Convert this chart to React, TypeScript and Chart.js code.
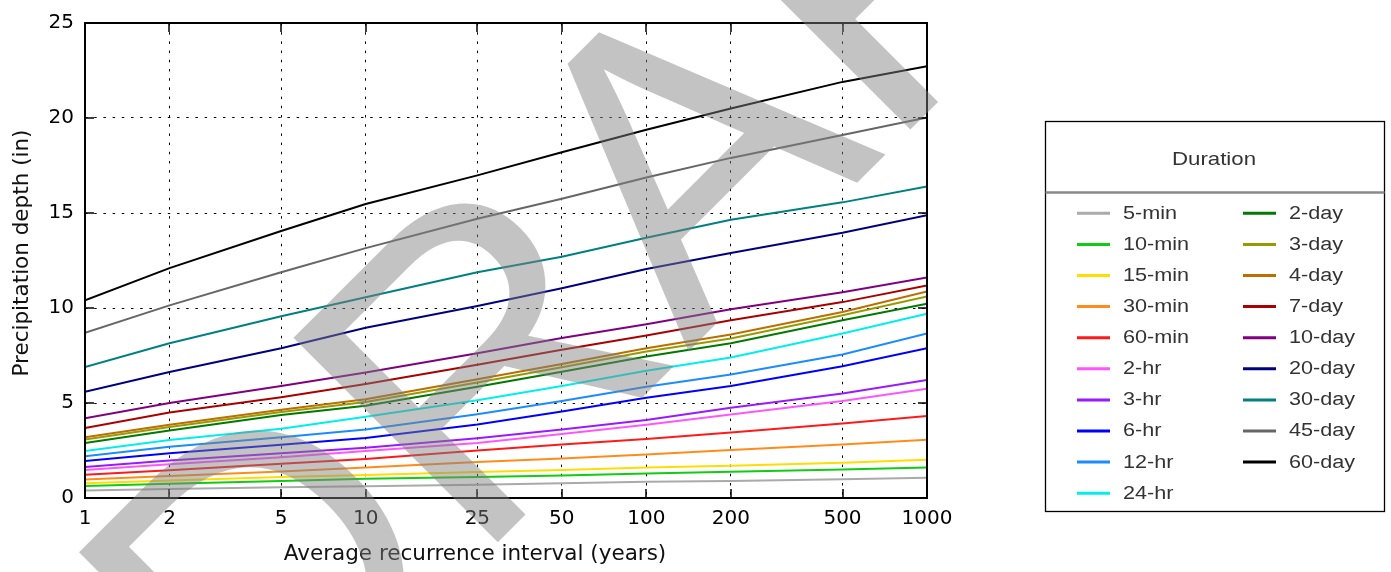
import React, { useEffect, useRef } from "react";
import { Chart, registerables } from "chart.js";

Chart.register(...registerables);

// ---- data -----------------------------------------------------------------
const ARI_YEARS = [1, 2, 5, 10, 25, 50, 100, 200, 500, 1000];
const X_TICKS = [1, 2, 5, 10, 25, 50, 100, 200, 500, 1000];
const Y_TICKS = [0, 5, 10, 15, 20, 25];

const DURATIONS = [
  "5-min", "10-min", "15-min", "30-min", "60-min", "2-hr", "3-hr", "6-hr", "12-hr", "24-hr",
  "2-day", "3-day", "4-day", "7-day", "10-day", "20-day", "30-day", "45-day", "60-day",
];

const COLORS = [
  "#aaaaaa", "#11cc11", "#ffdd00", "#ff8c1a", "#ff1a1a", "#ff55ff", "#9a1aff", "#0000ff", "#1a8cff", "#00eeee",
  "#007a00", "#999900", "#bb6f00", "#aa0000", "#800080", "#000080", "#008080", "#666666", "#000000",
];

const D_5MIN = [0.40, 0.48, 0.56, 0.62, 0.70, 0.77, 0.85, 0.90, 0.99, 1.07];
const D_10MIN = [0.63, 0.75, 0.90, 1.01, 1.10, 1.19, 1.29, 1.38, 1.50, 1.60];
const D_15MIN = [0.77, 0.92, 1.10, 1.21, 1.37, 1.48, 1.60, 1.70, 1.86, 2.01];
const D_30MIN = [0.98, 1.16, 1.40, 1.60, 1.89, 2.08, 2.29, 2.52, 2.82, 3.06];
const D_60MIN = [1.23, 1.46, 1.80, 2.05, 2.50, 2.81, 3.11, 3.45, 3.92, 4.32];
const D_2HR = [1.48, 1.78, 2.15, 2.47, 2.90, 3.37, 3.85, 4.40, 5.10, 5.75];
const D_3HR = [1.63, 1.98, 2.35, 2.64, 3.15, 3.60, 4.10, 4.75, 5.50, 6.21];
const D_6HR = [1.95, 2.36, 2.80, 3.16, 3.87, 4.55, 5.28, 5.89, 6.93, 7.88];
const D_12HR = [2.20, 2.70, 3.20, 3.61, 4.41, 5.10, 5.85, 6.50, 7.55, 8.66];
const D_24HR = [2.47, 3.05, 3.65, 4.28, 5.14, 5.89, 6.70, 7.40, 8.66, 9.70];
const D_2DAY = [2.90, 3.55, 4.37, 4.85, 5.85, 6.65, 7.45, 8.15, 9.35, 10.22];
const D_3DAY = [3.08, 3.74, 4.53, 5.05, 6.08, 6.88, 7.71, 8.40, 9.62, 10.60];
const D_4DAY = [3.20, 3.86, 4.65, 5.20, 6.25, 7.05, 7.88, 8.61, 9.79, 10.87];
const D_7DAY = [3.68, 4.50, 5.30, 6.00, 7.01, 7.80, 8.55, 9.36, 10.31, 11.18];
const D_10DAY = [4.20, 5.00, 5.89, 6.60, 7.62, 8.42, 9.15, 9.93, 10.83, 11.60];
const D_20DAY = [5.59, 6.63, 7.88, 8.96, 10.10, 11.04, 12.05, 12.90, 13.96, 14.88];
const D_30DAY = [6.89, 8.14, 9.57, 10.57, 11.88, 12.70, 13.70, 14.65, 15.56, 16.39];
const D_45DAY = [8.70, 10.14, 11.88, 13.15, 14.70, 15.75, 16.87, 17.90, 19.10, 20.03];
const D_60DAY = [10.40, 12.10, 14.05, 15.47, 16.98, 18.20, 19.38, 20.50, 21.90, 22.73];

const SERIES = [
  D_5MIN, D_10MIN, D_15MIN, D_30MIN, D_60MIN, D_2HR, D_3HR, D_6HR, D_12HR, D_24HR,
  D_2DAY, D_3DAY, D_4DAY, D_7DAY, D_10DAY, D_20DAY, D_30DAY, D_45DAY, D_60DAY,
];

const X_TITLE = "Average recurrence interval (years)";
const Y_TITLE = "Precipitation depth (in)";
const LEGEND_TITLE = "Duration";
const WATERMARK = "DRAFT";

// ---- styling --------------------------------------------------------------
const W = 1391;
const H = 572;
const AXIS_FONT = "'DejaVu Sans', 'Liberation Sans', sans-serif";
const LEGEND_FONT = "'Liberation Sans', Arial, sans-serif";

const decorPlugin = {
  id: "decor",
  afterDatasetsDraw(chart: any) {
    const { ctx, chartArea: a, scales } = chart;
    ctx.save();
    ctx.strokeStyle = "#000";
    ctx.lineWidth = 1.5;
    const L = 9;
    ctx.beginPath();
    for (const v of X_TICKS) {
      const x = Math.round(scales.x.getPixelForValue(v));
      ctx.moveTo(x, a.bottom);
      ctx.lineTo(x, a.bottom - L);
      ctx.moveTo(x, a.top);
      ctx.lineTo(x, a.top + L);
    }
    for (const v of Y_TICKS) {
      const y = Math.round(scales.y.getPixelForValue(v));
      ctx.moveTo(a.left, y);
      ctx.lineTo(a.left + L, y);
      ctx.moveTo(a.right, y);
      ctx.lineTo(a.right - L, y);
    }
    ctx.stroke();
    ctx.lineWidth = 2;
    ctx.strokeRect(a.left, a.top, a.right - a.left, a.bottom - a.top);
    ctx.restore();
  },
  afterDraw(chart: any) {
    const { ctx } = chart;
    // axis titles
    ctx.save();
    ctx.fillStyle = "#111";
    ctx.font = `21.5px ${AXIS_FONT}`;
    ctx.textAlign = "center";
    ctx.textBaseline = "middle";
    ctx.fillText(X_TITLE, 475, 554);
    ctx.translate(22, 253);
    ctx.rotate(-Math.PI / 2);
    ctx.fillText(Y_TITLE, 0, 0);
    ctx.restore();

    // legend
    const bx = 1045.5, by = 121.5, bw = 339, bh = 390;
    ctx.save();
    ctx.fillStyle = "#fff";
    ctx.fillRect(bx, by, bw, bh);
    ctx.strokeStyle = "#000";
    ctx.lineWidth = 1.3;
    ctx.strokeRect(bx, by, bw, bh);
    ctx.strokeStyle = "#8a8a8a";
    ctx.lineWidth = 2.5;
    ctx.beginPath();
    ctx.moveTo(bx, 192.5);
    ctx.lineTo(bx + bw, 192.5);
    ctx.stroke();

    ctx.fillStyle = "#333";
    ctx.textBaseline = "middle";
    ctx.save();
    ctx.translate(1214, 160);
    ctx.scale(1.17, 1);
    ctx.font = `19px ${LEGEND_FONT}`;
    ctx.textAlign = "center";
    ctx.fillText(LEGEND_TITLE, 0, 0);
    ctx.restore();

    const ds = chart.data.datasets;
    const rowY0 = 213.3, rowStep = 31.1;
    ds.forEach((d: any, i: number) => {
      const col = i < 10 ? 0 : 1;
      const row = i < 10 ? i : i - 10;
      const y = rowY0 + row * rowStep;
      const lx = col === 0 ? 1077 : 1243;
      const tx = col === 0 ? 1123 : 1289;
      ctx.strokeStyle = d.borderColor;
      ctx.lineWidth = 3;
      ctx.beginPath();
      ctx.moveTo(lx, y);
      ctx.lineTo(lx + 33, y);
      ctx.stroke();
      ctx.save();
      ctx.translate(tx, y + 0.5);
      ctx.scale(1.2, 1);
      ctx.font = `18px ${LEGEND_FONT}`;
      ctx.textAlign = "left";
      ctx.fillStyle = "#333";
      ctx.fillText(d.label, 0, 0);
      ctx.restore();
    });
    ctx.restore();

    // watermark
    ctx.save();
    ctx.translate(259, 781);
    ctx.rotate(-Math.PI / 4);
    ctx.font = `420px 'Liberation Sans', Arial, sans-serif`;
    ctx.fillStyle = "rgba(128,128,128,0.47)";
    ctx.textAlign = "left";
    ctx.textBaseline = "alphabetic";
    ctx.fillText(WATERMARK, 0, 0);
    ctx.restore();
  },
};

export default function App() {
  const canvasRef = useRef<HTMLCanvasElement | null>(null);

  useEffect(() => {
    document.body.style.margin = "0";
    const canvas = canvasRef.current;
    if (!canvas) return;
    const n = DURATIONS.length;
    const chart = new Chart(canvas, {
      type: "line",
      data: {
        datasets: DURATIONS.map((label, i) => ({
          label,
          data: ARI_YEARS.map((x, j) => ({ x, y: SERIES[i][j] })),
          borderColor: COLORS[i],
          backgroundColor: COLORS[i],
          borderWidth: 2,
          pointRadius: 0,
          tension: 0,
          fill: false,
          order: n - i,
        })),
      },
      options: {
        responsive: false,
        animation: false,
        devicePixelRatio: 1,
        events: [],
        layout: { padding: { left: 0, top: 19, right: W - 927, bottom: 0 } },
        plugins: {
          legend: { display: false },
          tooltip: { enabled: false },
          title: { display: false },
        },
        scales: {
          x: {
            type: "logarithmic",
            min: 1,
            max: 1000,
            afterBuildTicks: (s: any) => {
              s.ticks = X_TICKS.map((v) => ({ value: v }));
            },
            afterFit: (s: any) => {
              s.height = 74;
            },
            ticks: {
              autoSkip: false,
              maxRotation: 0,
              minRotation: 0,
              padding: 9,
              color: "#000",
              font: { family: AXIS_FONT, size: 20 },
              callback: (v: any) => String(v),
            },
            grid: { color: "#000", lineWidth: 1, drawTicks: false },
            border: { display: false, dash: [2.5, 6.7] },
          },
          y: {
            type: "linear",
            min: 0,
            max: 25,
            afterBuildTicks: (s: any) => {
              s.ticks = Y_TICKS.map((v) => ({ value: v }));
            },
            afterFit: (s: any) => {
              s.width = 85;
            },
            ticks: {
              padding: 11,
              color: "#000",
              font: { family: AXIS_FONT, size: 20 },
              callback: (v: any) => String(v),
            },
            grid: { color: "#000", lineWidth: 1, drawTicks: false },
            border: { display: false, dash: [2.5, 6.7] },
          },
        },
      } as any,
      plugins: [decorPlugin as any],
    });
    return () => chart.destroy();
  }, []);

  return (
    <div style={{ width: W, height: H, position: "relative", background: "#fff" }}>
      <canvas ref={canvasRef} width={W} height={H} style={{ display: "block", width: W, height: H }} />
    </div>
  );
}
